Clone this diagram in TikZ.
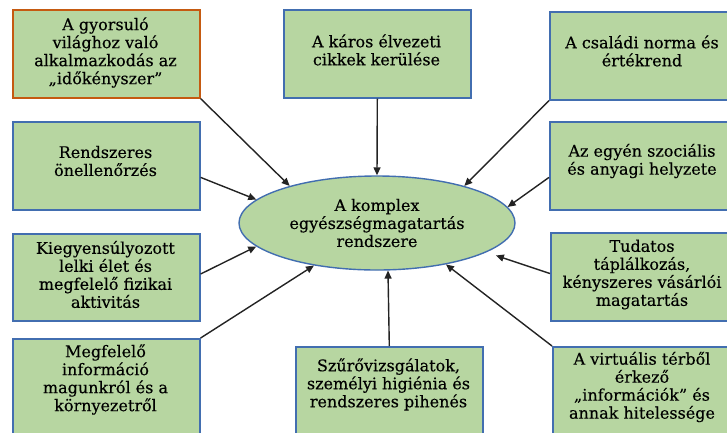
\documentclass[tikz,border=0pt]{standalone}
\usepackage{fontspec}
\setmainfont{DejaVu Serif}[FakeBold=0.3]
\usetikzlibrary{shapes.geometric,arrows.meta}
\definecolor{boxfill}{RGB}{183,214,161}
\definecolor{boxline}{RGB}{66,110,176}
\definecolor{accentline}{RGB}{197,90,17}
\definecolor{arrowline}{RGB}{35,35,35}

\begin{document}
\begin{tikzpicture}[x=1pt,y=-1pt,
  panel/.style={rectangle, draw=boxline, fill=boxfill, line width=1.6pt,
    anchor=north west, inner sep=0pt, minimum width=187pt, minimum height=88pt},
  boxtext/.style={align=center, inner sep=0pt, text=black,
    font=\fontsize{16}{18}\selectfont},
  link/.style={draw=arrowline, line width=1.4pt,
    -{Triangle[length=8pt,width=7pt]}}
]
\useasboundingbox (0,0) rectangle (727,432);
\clip (0,0) rectangle (727,432);

% outer boxes
\node[panel, draw=accentline] (b1) at (12,9) {};
\node[panel] (b2) at (283,9) {};
\node[panel] (b3) at (549,11) {};
\node[panel] (b4) at (12,121) {};
\node[panel, minimum height=87pt] (b5) at (12,233) {};
\node[panel, minimum height=110pt] (b6) at (12,338) {};
\node[panel, minimum height=110pt] (b7) at (295,346) {};
\node[panel, minimum height=110pt] (b8) at (552,346) {};
\node[panel] (b9) at (549,121) {};
\node[panel] (b10) at (550,232) {};

% box captions
\node[boxtext] (t1) at (105.5,52.5) {A gyorsuló\\világhoz való\\alkalmazkodás az\\„időkényszer”};
\node[boxtext] (t2) at (376.5,50) {A káros élvezeti\\cikkek kerülése};
\node[boxtext] (t3) at (642,51) {A családi norma és\\értékrend};
\node[boxtext] (t4) at (105.5,161) {Rendszeres\\önellenőrzés};
\node[boxtext] (t5) at (105.5,274.5) {Kiegyensúlyozott\\lelki élet és\\megfelelő fizikai\\aktivitás};
\node[boxtext] (t6) at (105.5,379.5) {Megfelelő\\információ\\magunkról és a\\környezetről};
\node[boxtext] (t7) at (388.5,384.5) {Szűrővizsgálatok,\\személyi higiénia és\\rendszeres pihenés};
\node[boxtext] (t8) at (642,387) {A virtuális térből\\érkező\\„információk” és\\annak hitelessége};
\node[boxtext] (t9) at (642,161) {Az egyén szociális\\és anyagi helyzete};
\node[boxtext] (t10) at (642,274.5) {Tudatos\\táplálkozás,\\kényszeres vásárlói\\magatartás};

% central ellipse
\node[ellipse, draw=boxline, fill=boxfill, line width=1.4pt, inner sep=0pt,
  minimum width=276pt, minimum height=94pt, align=center,
  font=\fontsize{16}{18}\selectfont] (core) at (377,223)
  {A komplex\\egyészségmagatartás\\rendszere};

% arrows into the ellipse
\draw[link] (b1.south east) -- (core.157);
\draw[link] (b2.south) -- (core.north);
\draw[link] (b3.south west) -- (core.23);
\draw[link] (b4.-7) -- (core.169);
\draw[link] (b5.2) -- (core.191);
\draw[link] (b6.north east) -- (core.214);
\draw[link] (b7.north) -- (core.283);
\draw[link] (b8.north west) -- (core.329);
\draw[link] (b9.187) -- (core.7);
\draw[link, shorten >=10pt] (b10.178) -- (core.345);
\end{tikzpicture}
\end{document}
